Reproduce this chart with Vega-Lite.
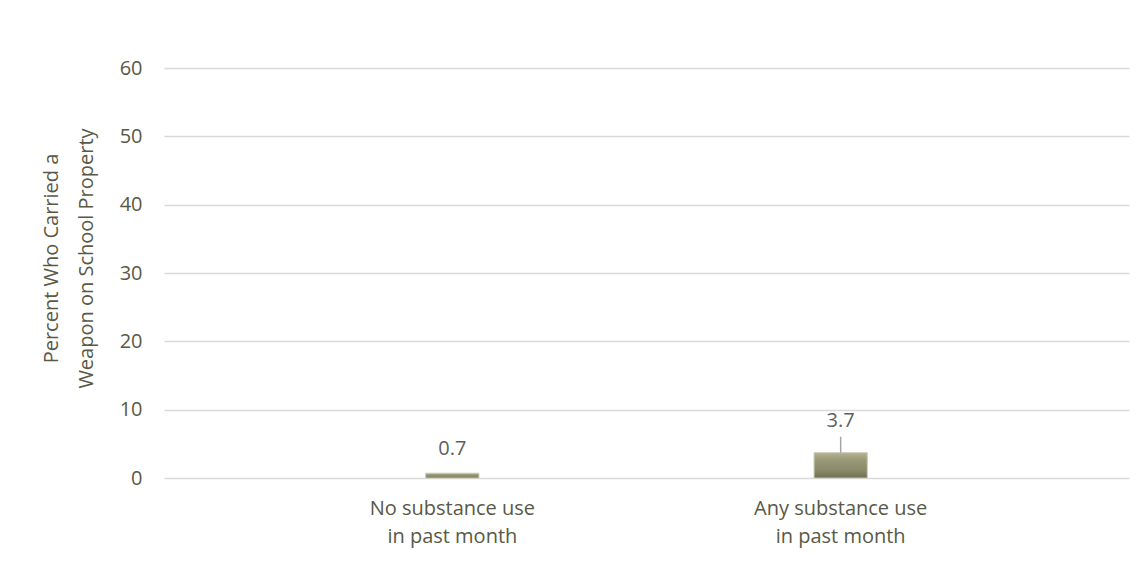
{
  "$schema": "https://vega.github.io/schema/vega-lite/v6.json",
  "width": 965,
  "height": 410,
  "autosize": {"type": "none"},
  "padding": {"left": 164, "top": 68, "right": 17, "bottom": 87},
  "background": "white",
  "config": {
    "view": {"stroke": null},
    "font": "Open Sans",
    "text": {"font": "Open Sans"}
  },
  "data": {
    "values": [
      {"group": "No substance use|in past month", "value": 0.7},
      {"group": "Any substance use|in past month", "value": 3.7}
    ]
  },
  "encoding": {
    "x": {
      "field": "group",
      "type": "nominal",
      "sort": null,
      "scale": {"paddingInner": 0.863, "paddingOuter": 0.674},
      "axis": {
        "title": null,
        "domain": false,
        "ticks": false,
        "labelAngle": 0,
        "labelExpr": "split(datum.label, '|')",
        "labelFontSize": 20,
        "labelLineHeight": 28,
        "labelPadding": 20,
        "labelColor": "#595945"
      }
    }
  },
  "layer": [
    {
      "mark": {
        "type": "bar",
        "stroke": "#c9c9b6",
        "strokeWidth": 1,
        "color": {
          "gradient": "linear",
          "x1": 0, "y1": 0, "x2": 0, "y2": 1,
          "stops": [
            {"offset": 0, "color": "#b2b292"},
            {"offset": 0.3, "color": "#999977"},
            {"offset": 0.7, "color": "#8a8a69"},
            {"offset": 1, "color": "#6d6d52"}
          ]
        }
      },
      "encoding": {
        "y": {
          "field": "value",
          "type": "quantitative",
          "scale": {"domain": [0, 60], "nice": false},
          "axis": {
            "values": [0, 10, 20, 30, 40, 50, 60],
            "domain": false,
            "ticks": false,
            "grid": true,
            "gridColor": "#d9d9d9",
            "gridWidth": 1.5,
            "labelFontSize": 20,
            "labelPadding": 22,
            "labelColor": "#595945",
            "title": ["Percent Who Carried a", "Weapon  on School Property"],
            "titleFontSize": 20,
            "titleFontWeight": "normal",
            "titleColor": "#595945",
            "titleAngle": -90,
            "titleBaseline": "alphabetic",
            "titleAlign": "center",
            "titleLineHeight": 35,
            "titleX": -107,
            "titleY": 190
          }
        }
      }
    },
    {
      "transform": [{"filter": "datum.value < 2"}],
      "mark": {"type": "text", "dy": -18, "baseline": "alphabetic", "fontSize": 20, "color": "#5a6060"},
      "encoding": {
        "y": {"field": "value", "type": "quantitative"},
        "text": {"field": "value", "type": "quantitative", "format": ".1f"}
      }
    },
    {
      "transform": [{"filter": "datum.value >= 2"}],
      "mark": {"type": "text", "dy": -26, "baseline": "alphabetic", "fontSize": 20, "color": "#5a6060"},
      "encoding": {
        "y": {"field": "value", "type": "quantitative"},
        "text": {"field": "value", "type": "quantitative", "format": ".1f"}
      }
    },
    {
      "transform": [{"filter": "datum.value >= 2"}],
      "mark": {"type": "rule", "color": "#a6a6a6", "strokeWidth": 1.5, "y2Offset": -16},
      "encoding": {
        "y": {"field": "value", "type": "quantitative"},
        "y2": {"field": "value"}
      }
    }
  ]
}
